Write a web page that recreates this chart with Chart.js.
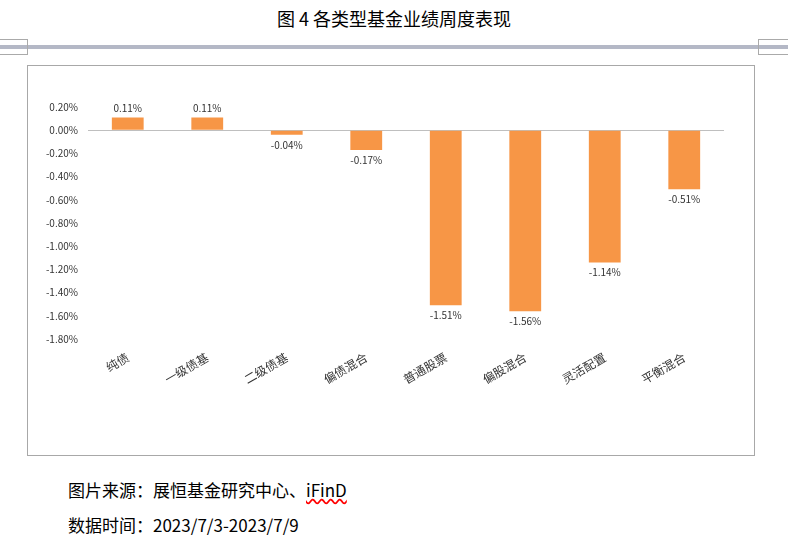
<!DOCTYPE html>
<html>
<head>
<meta charset="utf-8">
<script src="https://cdn.jsdelivr.net/npm/chart.js@4"></script>
<style>
body { margin:0; width:788px; height:540px; background:#fff; position:relative; font-family:"Noto Sans CJK SC"; overflow:hidden; }
#title { position:absolute; top:5px; left:0; width:788px; text-align:center; font-size:18px; color:#000; }
.band { position:absolute; top:45px; height:4px; background:#b4b8c6; }
.box { position:absolute; top:39px; height:14px; border:1px solid #aaa; }
#wrap { position:absolute; left:27px; top:65px; width:726px; height:389px; border:1px solid #a8a8a8; }
.foot { position:absolute; left:68px; font-size:17px; color:#000; }
</style>
</head>
<body>
<div id="title">图 4 各类型基金业绩周度表现</div>
<div class="band" style="left:0;width:788px"></div>
<div class="box" style="left:-2px;width:28px"></div>
<div class="box" style="left:758px;width:32px"></div>
<div id="wrap"><canvas id="c" width="726" height="389"></canvas></div>
<div class="foot" style="top:477px">图片来源：展恒基金研究中心、<span style="text-decoration:underline wavy red">iFinD</span></div>
<div class="foot" style="top:512px">数据时间：2023/7/3-2023/7/9</div>
<script>
// 数据
const categories = ['纯债', '一级债基', '二级债基', '偏债混合', '普通股票', '偏股混合', '灵活配置', '平衡混合'];
const returns = [0.11, 0.11, -0.04, -0.17, -1.51, -1.56, -1.14, -0.51];

const labelPlugin = {
    id: 'barLabels',
    afterDatasetsDraw(chart) {
        const ctx = chart.ctx;
        const meta = chart.getDatasetMeta(0);
        ctx.save();
        ctx.font = '10px "Noto Sans CJK SC"';
        ctx.fillStyle = '#333';
        ctx.textAlign = 'center';
        meta.data.forEach((bar, i) => {
            const v = returns[i];
            if (v >= 0) {
                ctx.textBaseline = 'bottom';
                ctx.fillText(v.toFixed(2) + '%', bar.x, bar.y - 4);
            } else {
                ctx.textBaseline = 'top';
                ctx.fillText(v.toFixed(2) + '%', bar.x, bar.y + 5);
            }
        });
        ctx.restore();
    }
};

new Chart(document.getElementById('c'), {
    type: 'bar',
    data: {
        labels: categories,
        datasets: [{ data: returns, backgroundColor: '#F79646', barPercentage: 0.4, categoryPercentage: 1 }]
    },
    options: {
        responsive: false,
        animation: false,
        layout: { padding: { top: 41, right: 30, left: 0, bottom: 0 } },
        plugins: { legend: { display: false }, tooltip: { enabled: false } },
        scales: {
            x: {
                grid: { display: false },
                border: { display: false },
                ticks: { minRotation: 30, maxRotation: 30, color: '#333', font: { size: 12, family: '"Noto Sans CJK SC"' } },
                afterFit(s) { s.height = 116; }
            },
            y: {
                min: -1.8, max: 0.2,
                grid: {
                    drawTicks: false,
                    color: ctx => ctx.tick && ctx.tick.value === 0 ? '#bfbfbf' : 'transparent'
                },
                border: { display: false },
                ticks: {
                    stepSize: 0.2, padding: 10, color: '#333',
                    font: { size: 10, family: '"Noto Sans CJK SC"' },
                    callback: v => v.toFixed(2) + '%'
                },
                afterFit(s) { s.width = 60; }
            }
        }
    },
    plugins: [labelPlugin]
});
</script>
</body>
</html>
